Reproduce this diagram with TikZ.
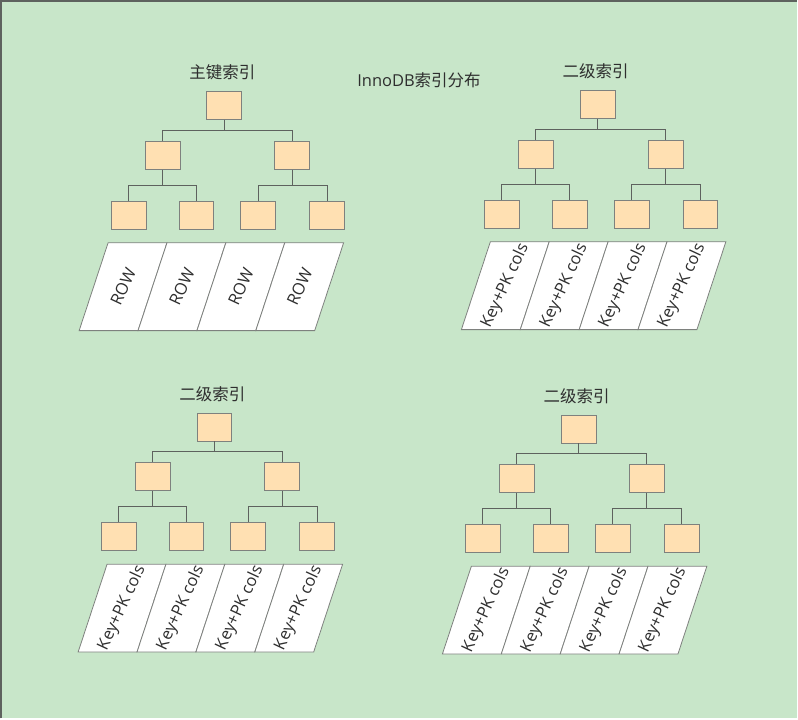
\documentclass[tikz,border=0pt]{standalone}
\usepackage{fontspec}
\setmainfont{Open Sans}
\newfontfamily\cjk{Noto Sans CJK SC}
\usetikzlibrary{positioning,calc}
\definecolor{bggreen}{HTML}{C8E6C9}
\definecolor{boxfill}{HTML}{FFE0B2}
\definecolor{linegray}{HTML}{5E625E}
\definecolor{textgray}{HTML}{2E2E2E}

\begin{document}
\begin{tikzpicture}[x=1pt,y=-1pt]
	\tikzstyle{box} = [rectangle, minimum width=35pt, minimum height=28pt, inner sep=0pt, draw=linegray!80, fill=boxfill, line width=0.8pt]
	\tikzstyle{link} = [draw=linegray, line width=0.9pt]
	\tikzstyle{elbow} = [to path={(\tikztostart) |- ($(\tikztostart)!0.5!(\tikztotarget)$) -| (\tikztotarget)}]
	\tikzstyle{cell} = [draw=linegray!80, fill=white, line width=0.8pt]
	\tikzstyle{celltext} = [rotate=65, font=\fontsize{16.5}{18}\selectfont, text=textgray, inner sep=0pt]
	\tikzstyle{title} = [font=\cjk\fontsize{16.5}{18}\selectfont, text=textgray, inner sep=0pt]
	% background and frame
	\fill[bggreen] (0,0) rectangle (798,719);
	\draw[linegray, line width=1.6pt] (0,719) -- (0,0) -- (798,0);
	\node (heading) [title] at (419,80) {\fontspec{Open Sans}InnoDB\cjk 索引分布};
	% one B+ tree with its leaf rows per index
	\foreach \g/\cx/\cy/\name/\rowtext/\bshift in {pk/224/105/主键索引/ROW/-9, sa/598/104/二级索引/Key+PK cols/0, sb/214/427/二级索引/Key+PK cols/0, sc/579/429/二级索引/Key+PK cols/0} {
		\node (\g-root) [box] at (\cx,\cy) {};
		\node (\g-title) [title] at ([shift={(-2,-33)}]\g-root) {\name};
		\node (\g-l) [box] at ([shift={(-62,50)}]\g-root) {};
		\node (\g-r) [box] at ([shift={(68,50)}]\g-root) {};
		\node (\g-ll) [box] at ([shift={(-34,60)}]\g-l) {};
		\node (\g-lr) [box] at ([shift={(34,60)}]\g-l) {};
		\node (\g-rl) [box] at ([shift={(-34,60)}]\g-r) {};
		\node (\g-rr) [box] at ([shift={(35,60)}]\g-r) {};
		\draw [link] (\g-root.south) edge[elbow] (\g-l.north) edge[elbow] (\g-r.north);
		\draw [link] (\g-l.south) edge[elbow] (\g-ll.north) edge[elbow] (\g-lr.north);
		\draw [link] (\g-r.south) edge[elbow] (\g-rl.north) edge[elbow] (\g-rr.north);
		\coordinate (\g-band) at ([shift={(-107.5+\bshift,137.5)}]\g-root);
		\foreach \k in {0,...,3} {
			\draw [cell] ([shift={(59*\k,0)}]\g-band) -- ++(59,0) -- ++(-29,88) -- ++(-59,0) -- cycle;
			\node (\g-cell\k) [celltext] at ([shift={(59*\k+15,44)}]\g-band) {\rowtext};
		}
	}
\end{tikzpicture}
\end{document}
